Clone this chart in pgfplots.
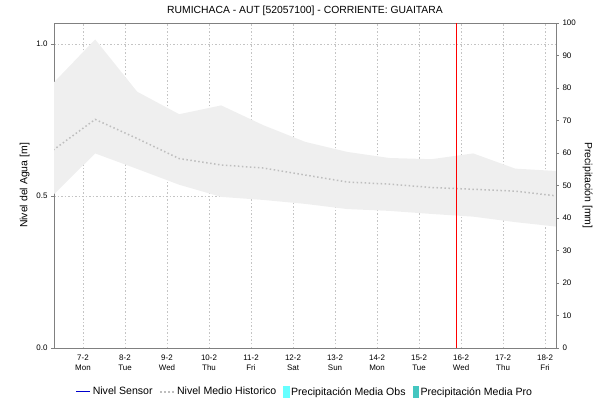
\documentclass[border=0pt]{standalone}
\usepackage{pgfplots}
\pgfplotsset{compat=1.18}
\usepgfplotslibrary{fillbetween}
\usetikzlibrary{calc}
\usepackage{fontspec}
\setmainfont{Liberation Sans}
\definecolor{band}{HTML}{EFEFEF}
\definecolor{meanc}{HTML}{BEBEBE}
\definecolor{gridc}{HTML}{C4C4C4}
\definecolor{axc}{HTML}{808080}
\definecolor{obsc}{HTML}{66FFFF}
\definecolor{proc}{HTML}{44C6C0}
\definecolor{sensc}{HTML}{0000CC}
\pgfplotsset{
  lineleg/.style={legend image code/.code={\draw[##1] (0bp,0bp) -- (14bp,0bp);}},
  sensleg/.style={legend image code/.code={\draw[sensc, line width=0.8bp] (0bp,0bp) -- (14bp,0bp);}},
  obsleg/.style={legend image code/.code={\fill[obsc] (0bp,-5bp) rectangle (5.5bp,6bp);}},
  proleg/.style={legend image code/.code={\fill[proc] (0bp,-5bp) rectangle (5.5bp,6bp);}},
}
\begin{document}
\begin{tikzpicture}
\begin{axis}[
  name=ax, at={(0,0)}, anchor=south west,
  scale only axis, width=502bp, height=325bp,
  xmin=-0.69, xmax=11.26, ymin=0, ymax=1.069,
  xtick={0,1,2,3,4,5,6,7,8,9,10,11},
  xticklabels={7-2\\Mon,8-2\\Tue,9-2\\Wed,10-2\\Thu,11-2\\Fri,12-2\\Sat,13-2\\Sun,14-2\\Mon,15-2\\Tue,16-2\\Wed,17-2\\Thu,18-2\\Fri},
  xticklabel style={align=center, font=\fontsize{8}{10.5}\selectfont},
  x tick style={draw=none},
  ytick={0,0.5,1},
  yticklabel style={font=\fontsize{8}{9}\selectfont},
  /pgf/number format/.cd, fixed, fixed zerofill, precision=1, assume math mode=true, /pgfplots/.cd,
  ytick pos=left, tick align=outside, major tick length=3bp,
  y tick style={axc},
  axis line style={axc, line width=0.6bp},
  grid=major,
  grid style={gridc, dash pattern=on 1.5bp off 2bp, line width=0.6bp},
  ylabel={Nivel del Agua [m]},
  ylabel style={font=\fontsize{10.5}{12}\selectfont},
  title={RUMICHACA - AUT [52057100] - CORRIENTE: GUAITARA},
  title style={font=\fontsize{10.4}{12}\selectfont, yshift=-2bp},
  legend style={at={(0.5,-0.135)}, anchor=center, draw=none, fill=none,
    font=\fontsize{10.6}{12}\selectfont, legend columns=-1,
    /tikz/every even column/.append style={column sep=5bp}},
  legend cell align=left,
]
\addlegendimage{sensleg}
\addlegendentry{Nivel Sensor}

\addplot[name path=up, draw=none, forget plot] coordinates {
(-0.71,0.871) (0.29,1.015) (1.29,0.843) (2.29,0.769) (3.29,0.798) (4.29,0.733)
(5.29,0.678) (6.29,0.645) (7.29,0.625) (8.29,0.621) (9.29,0.640) (10.29,0.590) (11.29,0.582)};
\addplot[name path=lo, draw=none, forget plot] coordinates {
(-0.71,0.503) (0.29,0.640) (1.29,0.589) (2.29,0.537) (3.29,0.497) (4.29,0.487)
(5.29,0.474) (6.29,0.457) (7.29,0.451) (8.29,0.441) (9.29,0.432) (10.29,0.414) (11.29,0.399)};
\addplot[band, forget plot] fill between[of=up and lo];

\addplot[meanc, line width=1.5bp, dash pattern=on 1.5bp off 2.5bp, lineleg] coordinates {
(-0.71,0.651) (0.29,0.752) (1.29,0.689) (2.29,0.623) (3.29,0.602) (4.29,0.592)
(5.29,0.569) (6.29,0.546) (7.29,0.539) (8.29,0.528) (9.29,0.522) (10.29,0.516) (11.29,0.500)};
\addlegendentry{Nivel Medio Historico}

\addplot[red, line width=0.7bp, forget plot] coordinates {(8.88,0) (8.88,1.069)};

\addlegendimage{obsleg}
\addlegendentry{Precipitación Media Obs}
\addlegendimage{proleg}
\addlegendentry{Precipitación Media Pro}
\end{axis}
\begin{axis}[
  at={(0,0)}, anchor=south west,
  scale only axis, width=502bp, height=325bp,
  xmin=-0.69, xmax=11.26, ymin=0, ymax=100,
  axis x line=none, axis y line*=right,
  ytick={0,10,...,100},
  yticklabel style={font=\fontsize{8}{9}\selectfont},
  /pgf/number format/assume math mode=true,
  tick align=outside, major tick length=3bp,
  y tick style={axc},
  axis line style={axc, line width=0.6bp},
  ylabel={Precipitación [mm]},
  ylabel near ticks,
  ylabel style={font=\fontsize{10.5}{12}\selectfont, rotate=180},
]
\addplot[draw=none] coordinates {(0,0)};
\end{axis}
\pgfresetboundingbox
\path ($(ax.south west)+(-54bp,-57bp)$) rectangle ($(ax.north east)+(47bp,23bp)$);
\end{tikzpicture}
\end{document}
